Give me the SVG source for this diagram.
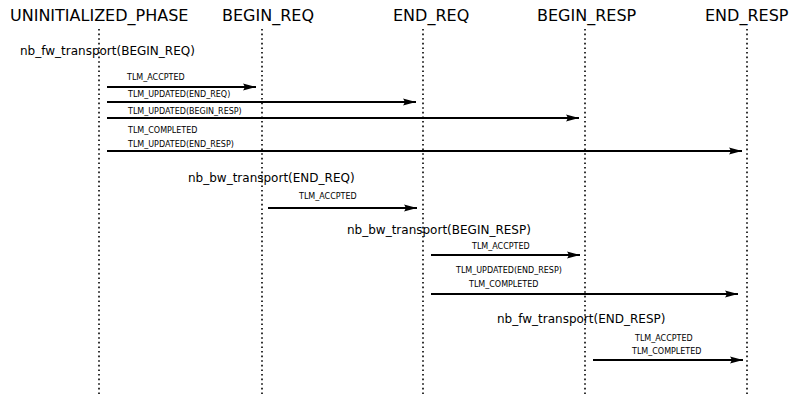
<svg xmlns="http://www.w3.org/2000/svg" width="791" height="394" viewBox="0 0 791 394">
<style>
  .head { font-family: "DejaVu Sans", sans-serif; font-size: 16px; fill: #000; }
  .call { font-family: "DejaVu Sans", sans-serif; font-size: 12px; fill: #000; }
  .lbl { font-family: "DejaVu Sans", sans-serif; font-size: 8px; fill: #000; }
  .life { stroke: #000; stroke-width: 1.6; stroke-dasharray: 1.6 3; fill: none; }
  .msg { stroke: #000; stroke-width: 2; fill: none; marker-end: url(#arr); }
</style>
<defs>
  <marker id="arr" markerUnits="userSpaceOnUse" markerWidth="14" markerHeight="9" refX="13" refY="4.5" orient="auto" viewBox="0 0 14 9">
    <path d="M0,1 L13,4.5 L0,8 Q3,4.5 0,1 Z" fill="#000"/>
  </marker>
</defs>
<rect width="791" height="394" fill="#fff"/>
<g id="lifelines">
  <g id="UNINITIALIZED_PHASE">
    <text class="head" x="10" y="21">UNINITIALIZED_PHASE</text>
    <line class="life" x1="99" y1="29" x2="99" y2="394"/>
  </g>
  <g id="BEGIN_REQ">
    <text class="head" x="222" y="21">BEGIN_REQ</text>
    <line class="life" x1="262" y1="29" x2="262" y2="394"/>
  </g>
  <g id="END_REQ">
    <text class="head" x="393" y="21">END_REQ</text>
    <line class="life" x1="423" y1="29" x2="423" y2="394"/>
  </g>
  <g id="BEGIN_RESP">
    <text class="head" x="537" y="21">BEGIN_RESP</text>
    <line class="life" x1="585" y1="29" x2="585" y2="394"/>
  </g>
  <g id="END_RESP">
    <text class="head" x="705" y="21">END_RESP</text>
    <line class="life" x1="747" y1="29" x2="747" y2="394"/>
  </g>
</g>
<g id="calls">
  <text class="call" x="20" y="55">nb_fw_transport(BEGIN_REQ)</text>
  <text class="call" x="188" y="182">nb_bw_transport(END_REQ)</text>
  <text class="call" x="347" y="234">nb_bw_transport(BEGIN_RESP)</text>
  <text class="call" x="497" y="323">nb_fw_transport(END_RESP)</text>
</g>
<g id="connectors">
  <line class="msg" x1="107" y1="87" x2="256" y2="87"/>
  <text class="lbl" x="127" y="80">TLM_ACCPTED</text>
  <line class="msg" x1="107" y1="102" x2="416" y2="102"/>
  <text class="lbl" x="128" y="97">TLM_UPDATED(END_REQ)</text>
  <line class="msg" x1="107" y1="118" x2="579" y2="118"/>
  <text class="lbl" x="128" y="114">TLM_UPDATED(BEGIN_RESP)</text>
  <line class="msg" x1="107" y1="151" x2="742" y2="151"/>
  <text class="lbl" x="128" y="133">TLM_COMPLETED</text>
  <text class="lbl" x="128" y="147">TLM_UPDATED(END_RESP)</text>

  <line class="msg" x1="268" y1="208" x2="417" y2="208"/>
  <text class="lbl" x="299" y="199">TLM_ACCPTED</text>

  <line class="msg" x1="431" y1="255" x2="580" y2="255"/>
  <text class="lbl" x="472" y="249">TLM_ACCPTED</text>
  <line class="msg" x1="431" y1="294" x2="738" y2="294"/>
  <text class="lbl" x="456" y="273">TLM_UPDATED(END_RESP)</text>
  <text class="lbl" x="469" y="287">TLM_COMPLETED</text>

  <line class="msg" x1="593" y1="360" x2="743" y2="360"/>
  <text class="lbl" x="635" y="341">TLM_ACCPTED</text>
  <text class="lbl" x="632" y="354">TLM_COMPLETED</text>
</g>
</svg>
